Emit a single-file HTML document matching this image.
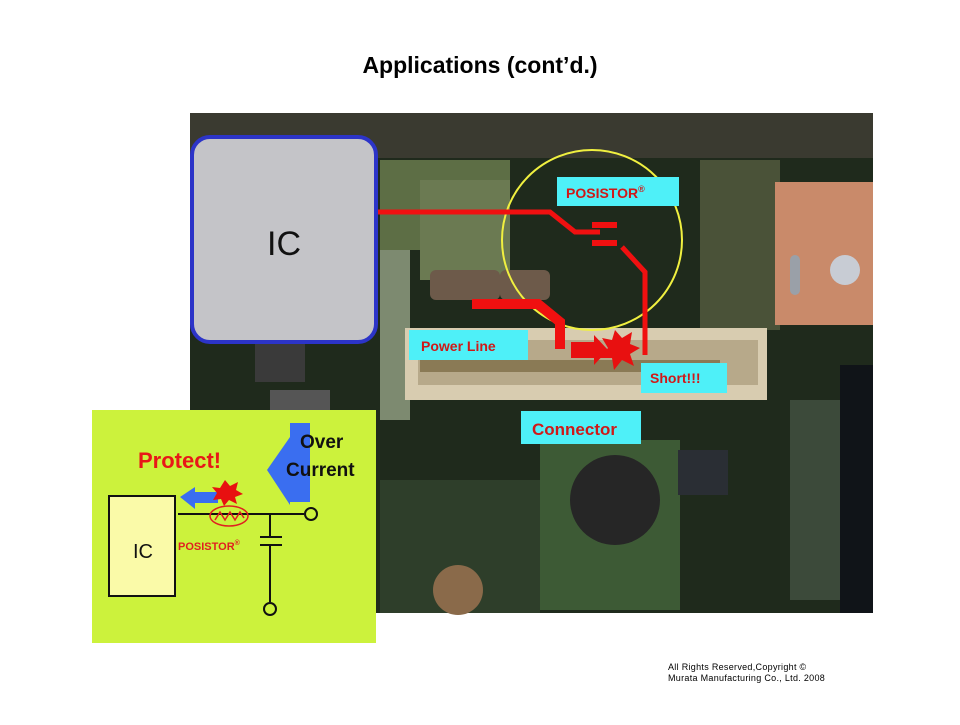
<!DOCTYPE html>
<html><head><meta charset="utf-8"><style>
body{margin:0;width:960px;height:720px;background:#fff;overflow:hidden;font-family:"Liberation Sans",sans-serif;}
</style></head><body>
<svg width="960" height="720" viewBox="0 0 960 720" xmlns="http://www.w3.org/2000/svg" font-family="Liberation Sans, sans-serif">
<text x="480" y="73" text-anchor="middle" font-size="23" font-weight="bold" fill="#000">Applications (cont’d.)</text>
<rect x="190" y="113" width="683" height="500" fill="#1f2a1c"/>
<rect x="190" y="113" width="683" height="45" fill="#3a3a30"/>
<rect x="380" y="160" width="130" height="90" fill="#5d6e45"/>
<rect x="420" y="180" width="90" height="100" fill="#6b7a52"/>
<rect x="380" y="250" width="30" height="170" fill="#7d8a70"/>
<rect x="700" y="160" width="80" height="170" fill="#4a5238"/>
<rect x="775" y="182" width="98" height="143" fill="#c98a6a"/>
<rect x="790" y="255" width="10" height="40" rx="5" fill="#9aa0a8"/>
<circle cx="845" cy="270" r="15" fill="#c8ccd4"/>
<rect x="430" y="270" width="70" height="30" rx="6" fill="#6d5a4a"/>
<rect x="500" y="270" width="50" height="30" rx="6" fill="#6d5a4a"/>
<rect x="405" y="328" width="362" height="72" fill="#d8ccb0"/>
<rect x="418" y="340" width="340" height="45" fill="#b7a98a"/>
<rect x="420" y="360" width="300" height="12" fill="#8a7a55"/>
<rect x="840" y="365" width="33" height="248" fill="#101418"/>
<rect x="790" y="400" width="50" height="200" fill="#3c4a3a"/>
<rect x="540" y="440" width="140" height="170" fill="#3d5a35"/>
<circle cx="615" cy="500" r="45" fill="#262626"/>
<rect x="678" y="450" width="50" height="45" fill="#2a2e34"/>
<rect x="380" y="480" width="160" height="133" fill="#2e3e2a"/>
<circle cx="458" cy="590" r="25" fill="#8a6a4a"/>
<rect x="255" y="342" width="50" height="40" fill="#3a3a3a"/>
<rect x="270" y="390" width="60" height="20" fill="#555"/>
<circle cx="592" cy="240" r="90" fill="none" stroke="#f0f040" stroke-width="2"/>
<polyline points="377,212 550,212 575,232 600,232" fill="none" stroke="#f01010" stroke-width="5"/>
<rect x="592" y="222" width="25" height="6" fill="#f01010"/>
<rect x="592" y="240" width="25" height="6" fill="#f01010"/>
<polyline points="622,247 645,272 645,355" fill="none" stroke="#f01010" stroke-width="5"/>
<polyline points="472,304 538,304 560,322 560,349" fill="none" stroke="#f01010" stroke-width="10"/>
<polygon points="571,342 594,342 594,335 608,350 594,365 594,358 571,358" fill="#e81010"/>
<polygon points="615,330 622,338 632,332 630,344 640,348 630,354 634,366 622,360 614,370 612,358 600,358 608,348 602,338 612,340" fill="#e81010"/>
<rect x="557" y="177" width="122" height="29" fill="#4ef0f8"/>
<text x="566" y="198" font-size="14" font-weight="bold" fill="#d01818">POSISTOR<tspan font-size="9" dy="-6">®</tspan></text>
<rect x="409" y="330" width="119" height="30" fill="#4ef0f8"/>
<text x="421" y="351" font-size="14" font-weight="bold" fill="#d01818">Power Line</text>
<rect x="641" y="363" width="86" height="30" fill="#4ef0f8"/>
<text x="650" y="383" font-size="14" font-weight="bold" fill="#d01818">Short!!!</text>
<rect x="521" y="411" width="120" height="33" fill="#4ef0f8"/>
<text x="532" y="435" font-size="17" font-weight="bold" fill="#d01818">Connector</text>
<rect x="192" y="137" width="184" height="205" rx="18" fill="#c4c4c8" stroke="#2c34c8" stroke-width="4"/>
<text x="284" y="255" text-anchor="middle" font-size="34" fill="#111">IC</text>
<rect x="92" y="410" width="284" height="233" fill="#ccf23c"/>
<text x="138" y="468" font-size="22" font-weight="bold" fill="#e81818">Protect!</text>
<polygon points="267,470 290,437 290,423 310,423 310,502 290,502 290,505" fill="#3a6ef0"/>
<text x="300" y="448" font-size="19" font-weight="bold" fill="#111">Over</text>
<text x="286" y="476" font-size="19" font-weight="bold" fill="#111">Current</text>
<rect x="109" y="496" width="66" height="100" fill="#fafaa8" stroke="#111" stroke-width="2"/>
<text x="143" y="558" text-anchor="middle" font-size="20" fill="#111">IC</text>
<polygon points="180,497 195,487 195,492 218,492 218,503 195,503 195,509" fill="#3a6ef0"/>
<polygon points="225,480 230,486 238,482 236,490 243,494 235,497 237,504 229,500 224,506 221,499 213,500 217,493 212,487 220,488" fill="#e81010"/>
<line x1="178" y1="514" x2="304" y2="514" stroke="#111" stroke-width="2"/>
<ellipse cx="229" cy="516" rx="19" ry="10" fill="none" stroke="#e02020" stroke-width="1.5"/>
<polyline points="215,520 220,512 225,520 230,512 235,520 240,512 244,518" fill="none" stroke="#e02020" stroke-width="1.5"/>
<circle cx="311" cy="514" r="6" fill="none" stroke="#111" stroke-width="2"/>
<line x1="270" y1="514" x2="270" y2="537" stroke="#111" stroke-width="2"/>
<line x1="260" y1="537" x2="282" y2="537" stroke="#111" stroke-width="2"/>
<line x1="260" y1="545" x2="282" y2="545" stroke="#111" stroke-width="2"/>
<line x1="270" y1="545" x2="270" y2="602" stroke="#111" stroke-width="2"/>
<circle cx="270" cy="609" r="6" fill="none" stroke="#111" stroke-width="2"/>
<text x="178" y="550" font-size="11" font-weight="bold" fill="#e02020">POSISTOR<tspan font-size="7" dy="-5">®</tspan></text>
<text x="668" y="670" font-size="9" letter-spacing="0.3" fill="#000">All Rights Reserved,Copyright ©</text>
<text x="668" y="681" font-size="9" letter-spacing="0.3" fill="#000">Murata Manufacturing Co., Ltd. 2008</text>
</svg>
</body></html>
